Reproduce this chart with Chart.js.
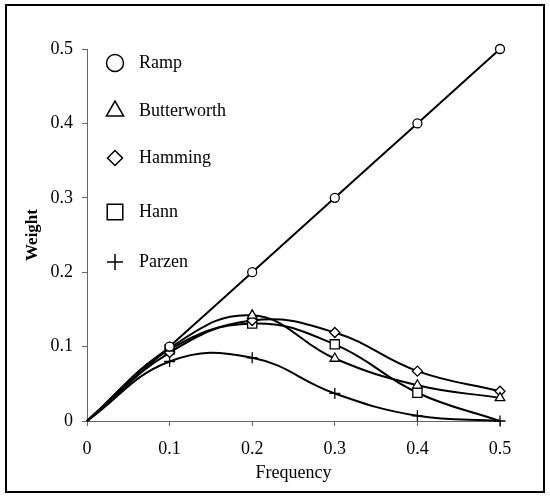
<!DOCTYPE html>
<html lang="en">
<head>
<meta charset="UTF-8">
<title>Filter Weights</title>
<style>
  html, body { margin: 0; padding: 0; background: #fff; }
  #wrap { position: relative; width: 550px; height: 498px; }
</style>
</head>
<body>
<div id="wrap"><canvas id="weightChart" width="550" height="498"></canvas></div>
<script src="https://cdn.jsdelivr.net/npm/chart.js"></script>
<script>
// values
const frequency = [0, 0.1, 0.2, 0.3, 0.4, 0.5];
const ramp = [0, 0.1, 0.2, 0.3, 0.4, 0.5];
const butterworth = [0, 0.098, 0.142, 0.084, 0.048, 0.031];
const hamming = [0, 0.092, 0.135, 0.119, 0.067, 0.040];
const hann = [0, 0.096, 0.131, 0.103, 0.038, 0];
const parzen = [0, 0.080, 0.085, 0.037, 0.007, 0];
const seriesNames = ['Ramp', 'Butterworth', 'Hamming', 'Hann', 'Parzen'];
const xTicks = ['0', '0.1', '0.2', '0.3', '0.4', '0.5'];
const yTicks = ['0', '0.1', '0.2', '0.3', '0.4', '0.5'];

// marker look for each series (plot size, legend size)
const markers = [
  { style: 'circle',   r: 4.5, lr: 8.5 },
  { style: 'triangle', r: 5.5, lr: 10 },
  { style: 'rectRot',  r: 5,   lr: 7.5 },
  { style: 'rect',     r: 6.5, lr: 11 },
  { style: 'cross',    r: 5.5, lr: 8 }
];
const allSeries = [ramp, butterworth, hamming, hann, parzen];

const serif = 'Liberation Serif, Times New Roman, serif';

const datasets = allSeries.map((vals, i) => ({
  label: seriesNames[i],
  data: frequency.map((f, j) => ({ x: f, y: vals[j] })),
  borderColor: '#000',
  borderWidth: 2,
  tension: 0.42,
  fill: false,
  clip: false,
  pointStyle: markers[i].style,
  // no marker at the origin, and Hann has none at 0.5
  pointRadius: frequency.map((f, j) => (j === 0 || (i === 3 && j === 5)) ? 0 : markers[i].r),
  pointBackgroundColor: '#fff',
  pointBorderColor: '#000',
  pointBorderWidth: 1.3
}));

const legendAndFrame = {
  id: 'legendAndFrame',
  afterDraw(chart) {
    const ctx = chart.ctx;
    ctx.save();
    const rows = [63, 111, 158, 212, 262];
    seriesNames.forEach((name, i) => {
      ctx.fillStyle = '#fff';
      ctx.strokeStyle = '#000';
      ctx.lineWidth = 1.5;
      Chart.helpers.drawPoint(ctx, {
        pointStyle: markers[i].style, radius: markers[i].lr, rotation: 0, borderWidth: 1.5
      }, 115, rows[i]);
      ctx.fillStyle = '#000';
      ctx.font = '18px ' + serif;
      ctx.textBaseline = 'middle';
      ctx.textAlign = 'left';
      ctx.fillText(name, 139, rows[i]);
    });
    ctx.strokeStyle = '#000';
    ctx.lineWidth = 2;
    ctx.strokeRect(6, 5, 538, 487);
    ctx.restore();
  }
};

new Chart(document.getElementById('weightChart').getContext('2d'), {
  type: 'line',
  data: { datasets: datasets },
  options: {
    responsive: false,
    animation: false,
    layout: { padding: { top: 49, right: 50, left: 0, bottom: 0 } },
    plugins: { legend: { display: false }, tooltip: { enabled: false } },
    scales: {
      x: {
        type: 'linear', min: 0, max: 0.5,
        afterFit: s => { s.height = 77; },
        afterBuildTicks: s => { s.ticks = xTicks.map(t => ({ value: parseFloat(t) })); },
        ticks: {
          callback: (v, i) => xTicks[i],
          font: { family: serif, size: 18 }, color: '#000',
          padding: 12, maxRotation: 0, autoSkip: false
        },
        grid: { drawOnChartArea: false, tickLength: 5, color: '#666' },
        border: { color: '#666', width: 1 },
        title: {
          display: true, text: 'Frequency', color: '#000',
          font: { family: serif, size: 18 },
          padding: { top: 0, bottom: 14 }
        }
      },
      y: {
        type: 'linear', min: 0, max: 0.5,
        afterFit: s => { s.width = 87; },
        afterBuildTicks: s => { s.ticks = yTicks.map(t => ({ value: parseFloat(t) })); },
        ticks: {
          callback: (v, i) => yTicks[i],
          font: { family: serif, size: 18 }, color: '#000',
          padding: 9, autoSkip: false
        },
        grid: { drawOnChartArea: false, tickLength: 5, color: '#666' },
        border: { color: '#666', width: 1 },
        title: {
          display: true, text: 'Weight', color: '#000',
          font: { family: serif, size: 17, weight: 'bold' },
          padding: { top: 22, bottom: 0 }
        }
      }
    }
  },
  plugins: [legendAndFrame]
});
</script>
</body>
</html>
